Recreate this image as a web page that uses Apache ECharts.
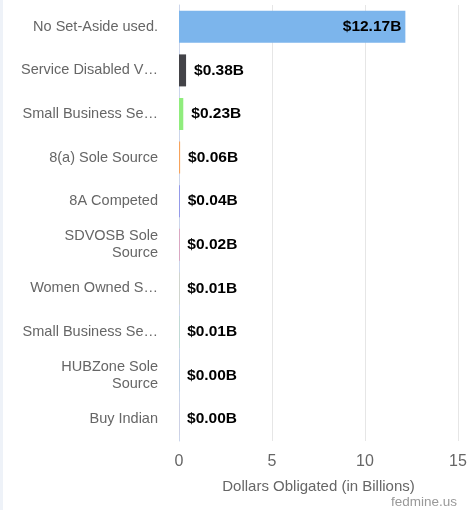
<!DOCTYPE html>
<html>
<head>
<meta charset="utf-8">
<script src="https://cdn.jsdelivr.net/npm/echarts@6/dist/echarts.min.js"></script>
<style>
  html, body { margin: 0; padding: 0; background: #fff; }
  #chart { width: 474px; height: 510px; }
</style>
</head>
<body>
<div id="chart"></div>
<script>
// categories as shown on the axis (long names cut or wrapped like the original)
const categories = [
  "No Set-Aside used.",
  "Service Disabled V…",
  "Small Business Se…",
  "8(a) Sole Source",
  "8A Competed",
  "SDVOSB Sole\nSource",
  "Women Owned S…",
  "Small Business Se…",
  "HUBZone Sole\nSource",
  "Buy Indian"
];
// dollars obligated, in billions
const values = [12.17, 0.38, 0.23, 0.06, 0.04, 0.02, 0.01, 0.01, 0.004, 0.002];
const labels = ["$12.17B", "$0.38B", "$0.23B", "$0.06B", "$0.04B", "$0.02B", "$0.01B", "$0.01B", "$0.00B", "$0.00B"];
const xTicks = [0, 5, 10, 15];

const palette = ["#7cb5ec", "#434348", "#90ed7d", "#f7a35c", "#8085e9",
  "#f15c80", "#e4d354", "#2b908f", "#f45b5b", "#91e8e1"];

const font = "'Liberation Sans', Arial, sans-serif";
const chart = echarts.init(document.getElementById("chart"));

chart.setOption({
  animation: false,
  color: palette,
  grid: { left: 179, right: 16, top: 5, bottom: 69, containLabel: false },
  xAxis: {
    type: "value",
    min: xTicks[0],
    max: xTicks[xTicks.length - 1],
    interval: 5,
    name: "Dollars Obligated (in Billions)",
    nameLocation: "middle",
    nameGap: 38,
    nameTextStyle: { color: "#666", fontSize: 15, fontFamily: font },
    axisLine: { show: false },
    axisTick: { show: false },
    axisLabel: { color: "#666", fontSize: 16, fontFamily: font, margin: 13 },
    splitLine: { lineStyle: { color: "#e6e6e6", width: 1 } }
  },
  yAxis: {
    type: "category",
    inverse: true,
    data: categories,
    axisLine: { lineStyle: { color: "#ccd6eb", width: 1 } },
    axisTick: { length: 10, lineStyle: { color: "#ccd6eb" } },
    axisLabel: { color: "#666", fontSize: 14.5, fontFamily: font, margin: 21, lineHeight: 17 },
    splitLine: { show: false }
  },
  series: [{
    type: "bar",
    colorBy: "data",
    barWidth: 32,
    data: values.map((v, i) => ({
      value: v,
      label: i === 0 ? { position: "insideRight", distance: 4 } : {}
    })),
    label: {
      show: true,
      position: "right",
      distance: 8,
      color: "#000",
      fontSize: 15.5,
      fontWeight: "bold",
      fontFamily: font,
      formatter: (p) => labels[p.dataIndex]
    }
  }],
  graphic: [
    { type: "rect", left: 0, top: 0, shape: { width: 3, height: 510 }, style: { fill: "#eef2f8" } },
    {
      type: "text", right: 17, top: 495,
      style: { text: "fedmine.us", fill: "#999", fontSize: 13.5, fontFamily: font }
    }
  ]
});
</script>
</body>
</html>
